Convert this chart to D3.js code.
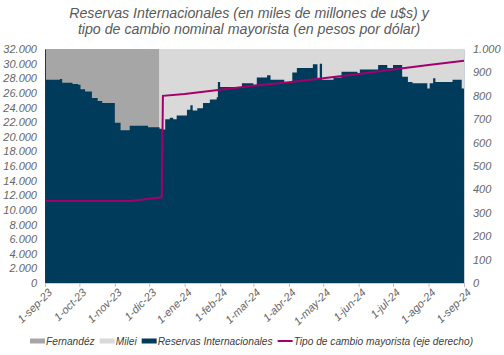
<!DOCTYPE html>
<html><head><meta charset="utf-8">
<script src="https://cdn.jsdelivr.net/npm/d3@7"></script>
<style>
html,body{margin:0;padding:0;background:#fff;}
svg{display:block;font-family:"Liberation Sans",Arial,sans-serif;}
</style></head>
<body>
<svg id="c" width="504" height="355"></svg>
<script>
// ---- data ----
const titleLines = ["Reservas Internacionales (en miles de millones de u$s) y",
                    "tipo de cambio nominal mayorista (en pesos por dólar)"];
const reservasDates = ["2023-09-01","2023-09-14","2023-09-16","2023-09-25","2023-09-30","2023-10-02","2023-10-06","2023-10-12","2023-10-17","2023-10-21","2023-11-01","2023-11-06","2023-11-14","2023-11-30","2023-12-10","2023-12-12","2023-12-15","2023-12-19","2023-12-22","2023-12-25","2024-01-03","2024-01-06","2024-01-08","2024-01-12","2024-01-17","2024-01-23","2024-01-29","2024-01-30","2024-02-01","2024-02-16","2024-02-20","2024-03-01","2024-03-04","2024-03-13","2024-03-16","2024-03-28","2024-04-04","2024-04-08","2024-04-22","2024-04-26","2024-04-28","2024-04-30","2024-05-10","2024-05-17","2024-05-31","2024-06-02","2024-06-18","2024-06-26","2024-07-01","2024-07-09","2024-07-14","2024-07-18","2024-07-31","2024-08-02","2024-08-05","2024-08-07","2024-08-22","2024-08-30","2024-09-01"];
const reservasValues = [27800,27900,27400,27200,27100,26500,26200,25300,24900,24600,21900,20900,21500,21300,21100,21000,22400,22600,22400,22900,23700,24300,23600,23900,24600,25100,25400,27500,26800,26800,27300,27100,28100,28400,27800,27400,28800,29400,29900,28000,30000,27800,28100,28900,28700,29200,29800,29400,29800,28200,27500,27300,26600,27300,28000,27500,27800,26600,26600];
const tcDates = ["2023-09-01","2023-11-15","2023-12-12","2023-12-13","2024-01-01","2024-02-01","2024-03-01","2024-04-01","2024-05-01","2024-06-01","2024-07-01","2024-08-01","2024-09-01"];
const tcValues = [350,350,366,800,808,826,843,858,875,893,912,932,950];
const periodNames = ["Fernandéz","Milei"];
const periodStarts = ["2023-09-01","2023-12-10"];
const periodEnds = ["2023-12-10","2024-09-01"];
const monthTicks = ["2023-09-01","2023-10-01","2023-11-01","2023-12-01","2024-01-01","2024-02-01","2024-03-01","2024-04-01","2024-05-01","2024-06-01","2024-07-01","2024-08-01","2024-09-01"];
const monthLabels = ["1-sep-23","1-oct-23","1-nov-23","1-dic-23","1-ene-24","1-feb-24","1-mar-24","1-abr-24","1-may-24","1-jun-24","1-jul-24","1-ago-24","1-sep-24"];
const leftTicks = d3.range(0, 32001, 2000);
const rightTicks = d3.range(0, 1001, 100);
const legendLabels = ["Fernandéz","Milei","Reservas Internacionales","Tipo de cambio mayorista (eje derecho)"];

// ---- setup ----
const parse = d3.timeParse("%Y-%m-%d");
const loc = d3.formatLocale({decimal:",", thousands:".", grouping:[3], currency:["$",""]});
const fmt = loc.format(",");
const col = {fer:"#a6a6a6", mil:"#d9d9d9", area:"#013b5b", line:"#a3006b", text:"#666666"};

const svg = d3.select("#c");
const m = {l:45, r:464, t:49, b:283};
const x = d3.scaleTime().domain([parse("2023-09-01"), parse("2024-09-01")]).range([m.l, m.r]);
const yL = d3.scaleLinear().domain([0,32000]).range([m.b, m.t]);
const yR = d3.scaleLinear().domain([0,1000]).range([m.b, m.t]);

// title
svg.append("g").selectAll("text").data(titleLines).join("text")
  .attr("x", 249).attr("y", (d,i)=>17.5 + i*16.5)
  .attr("text-anchor","middle").attr("font-style","italic")
  .attr("font-size", 14.2).attr("fill","#595959").text(d=>d);

// background periods
svg.append("g").selectAll("rect").data(periodNames).join("rect")
  .attr("x",(d,i)=>x(parse(periodStarts[i])))
  .attr("width",(d,i)=>x(parse(periodEnds[i]))-x(parse(periodStarts[i])))
  .attr("y", yL(32000)).attr("height", yL(0)-yL(32000))
  .attr("fill",(d,i)=> i===0?col.fer:col.mil);

// area
const res = reservasDates.map((d,i)=>({date:parse(d), v:reservasValues[i]}));
svg.append("path").datum(res)
  .attr("fill", col.area)
  .attr("d", d3.area().curve(d3.curveStepAfter).x(d=>x(d.date)).y0(yL(0)).y1(d=>yL(d.v)));

// line
const tc = tcDates.map((d,i)=>({date:parse(d), v:tcValues[i]}));
svg.append("path").datum(tc)
  .attr("fill","none").attr("stroke", col.line).attr("stroke-width",2)
  .attr("d", d3.line().x(d=>x(d.date)).y(d=>yR(d.v)));

// axes
const axL = svg.append("g").attr("transform",`translate(${m.l},0)`)
  .call(d3.axisLeft(yL).tickValues(leftTicks).tickFormat(fmt).tickSize(0).tickPadding(8));
axL.select(".domain").attr("stroke","#333").attr("stroke-width",1);
const axR = svg.append("g").attr("transform",`translate(${m.r},0)`)
  .call(d3.axisRight(yR).tickValues(rightTicks).tickFormat(fmt).tickSize(0).tickPadding(9));
axR.select(".domain").attr("stroke","#c8d0d8");
const axX = svg.append("g").attr("transform",`translate(0,${m.b})`)
  .call(d3.axisBottom(x).tickValues(monthTicks.map(parse)).tickFormat((d,i)=>monthLabels[i]).tickSize(4).tickPadding(4));
axX.select(".domain").attr("stroke","#c8d0d8");
axX.selectAll(".tick line").attr("stroke","#bfbfbf");
axX.selectAll("text").attr("text-anchor","end")
  .attr("transform","translate(6,6) rotate(-45)").attr("dy","0.35em").attr("y",0).attr("x",-2);
[axL,axR,axX].forEach(a=>{
  a.selectAll("text").attr("font-family","Liberation Sans, Arial, sans-serif")
   .attr("font-style","italic").attr("font-size",11).attr("fill",col.text);
});

// legend
const lg = svg.append("g").attr("font-style","italic").attr("font-size",10.2).attr("fill","#404040");
let cx = 30;
legendLabels.forEach((t,i)=>{
  if(i<3){
    lg.append("rect").attr("x",cx).attr("y",338.5).attr("width",15).attr("height",5)
      .attr("fill",[col.fer,col.mil,col.area][i]);
  } else {
    lg.append("line").attr("x1",cx).attr("x2",cx+15).attr("y1",341).attr("y2",341)
      .attr("stroke",col.line).attr("stroke-width",2);
  }
  const tx = lg.append("text").attr("x",cx+16).attr("y",344.5).text(t);
  cx += 16 + tx.node().getComputedTextLength() + 5;
});
</script>
</body></html>
